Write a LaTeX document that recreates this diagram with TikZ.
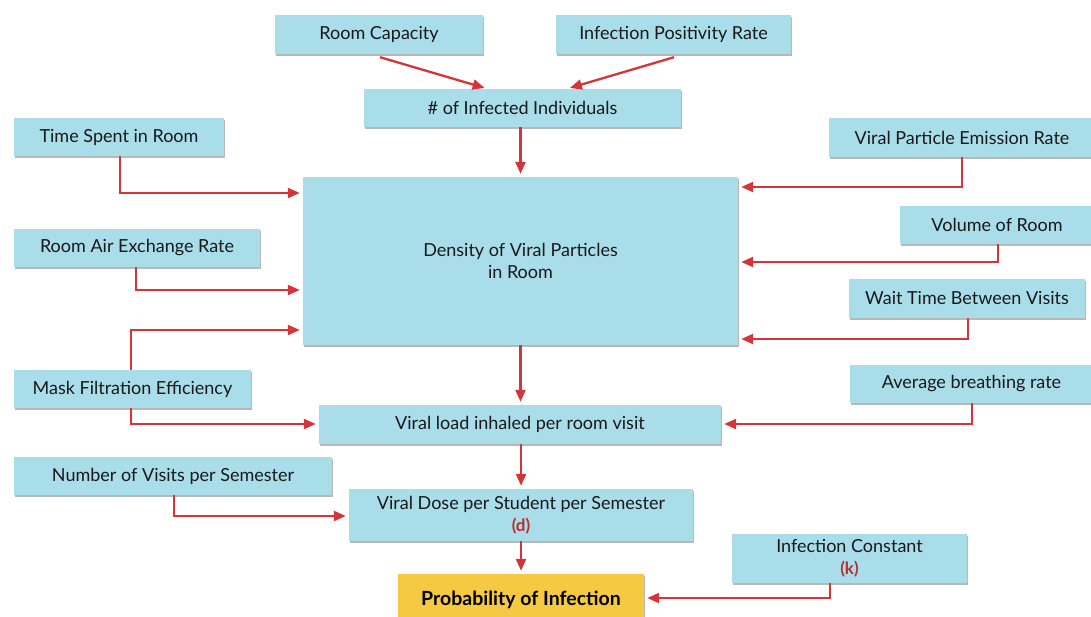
\documentclass[tikz,border=0pt]{standalone}
\usepackage{fontspec}
\setmainfont{Lato}
\usetikzlibrary{arrows.meta,shadows}
\definecolor{boxblue}{RGB}{169,221,234}
\definecolor{arrred}{RGB}{212,52,58}
\definecolor{lblred}{RGB}{185,45,45}
\definecolor{boxyellow}{RGB}{246,201,66}
\newcommand{\tagd}[1]{{\color{lblred}\fontsize{17}{20}\selectfont\bfseries #1}}
\begin{document}
\begin{tikzpicture}[x=1pt,y=-1pt,
  box/.style={fill=boxblue,draw=none,inner sep=0pt,align=center,
    font=\fontsize{18}{22}\selectfont,text=black!90,
    drop shadow={shadow xshift=1pt,shadow yshift=-2pt,opacity=0.28,fill=black}},
  arr/.style={draw=arrred,line width=2.3pt,
    -{Triangle[length=12pt,width=10pt]},shorten >=3pt}]
\useasboundingbox (0,0) rectangle (1091,616);
\clip (0,0) rectangle (1091,616);
% nodes
\node[box,minimum width=208pt,minimum height=39pt] (rc) at (379,34.5) {Room Capacity};
\node[box,minimum width=235pt,minimum height=39pt] (ipr) at (673.5,34.5) {Infection Positivity Rate};
\node[box,minimum width=317pt,minimum height=38pt] (ii) at (522.5,108) {\# of Infected Individuals};
\node[box,minimum width=210pt,minimum height=38pt] (tsr) at (119,137) {Time Spent in Room};
\node[box,minimum width=266pt,minimum height=39pt] (vpe) at (962,137.5) {Viral Particle Emission Rate};
\node[box,minimum width=435pt,minimum height=168pt] (dens) at (520.5,261) {Density of Viral Particles\\in Room};
\node[box,minimum width=194pt,minimum height=38pt] (vol) at (997,225) {Volume of Room};
\node[box,minimum width=246pt,minimum height=38pt] (raer) at (137,248) {Room Air Exchange Rate};
\node[box,minimum width=236pt,minimum height=39pt] (wtb) at (967,298.5) {Wait Time Between Visits};
\node[box,minimum width=237pt,minimum height=38pt] (mfe) at (132.5,389) {Mask Filtration Efficiency};
\node[box,minimum width=243pt,minimum height=38pt] (abr) at (971.5,384) {Average breathing rate};
\node[box,minimum width=402pt,minimum height=39pt] (vli) at (520,424.5) {Viral load inhaled per room visit};
\node[box,minimum width=318pt,minimum height=38pt] (nvs) at (173,476) {Number of Visits per Semester};
\node[box,minimum width=344pt,minimum height=52pt] (vd) at (521,515) {Viral Dose per Student per Semester\\[0pt]\tagd{(d)}};
\node[box,minimum width=235pt,minimum height=49pt] (ic) at (849.5,558) {Infection Constant\\[0pt]\tagd{(k)}};
\node[box,fill=boxyellow,minimum width=246pt,minimum height=52pt,font=\fontsize{19.5}{23}\selectfont\bfseries,text=black] (prob) at (521,600) {Probability of Infection};
% connectors
\draw[arr] ([xshift=1pt,yshift=-3pt]rc.south) -- ([xshift=-35pt]ii.north);
\draw[arr] ([xshift=0.5pt,yshift=-3pt]ipr.south) -- ([xshift=44.5pt]ii.north);
\draw[arr] (ii.south -| dens.north) -- (dens.north);
\draw[arr] (tsr.south) ++(1,0) |- (dens.west |- 0,193);
\draw[arr] (raer.south) ++(-1,0) |- (dens.west |- 0,290);
\draw[arr] (mfe.north) ++(-1.5,0) |- (dens.west |- 0,330);
\draw[arr] (mfe.south) ++(-1.5,0) |- (vli.west |- 0,424);
\draw[arr] (vpe.south) |- (dens.east |- 0,187);
\draw[arr] (vol.south) ++(1,0) |- (dens.east |- 0,262);
\draw[arr] (wtb.south) ++(1,0) |- (dens.east |- 0,339);
\draw[arr] (abr.south) ++(0.5,0) |- (vli.east |- 0,424);
\draw[arr] (dens.south) -- (vli.north -| dens.south);
\draw[arr] (vli.south -| vd.north) -- (vd.north);
\draw[arr] (nvs.south) ++(1,0) |- (vd.west |- 0,516);
\draw[arr] (vd.south) -- (prob.north);
\draw[arr] (ic.south) ++(-19.5,0) |- (prob.east |- 0,598);
\end{tikzpicture}
\end{document}
